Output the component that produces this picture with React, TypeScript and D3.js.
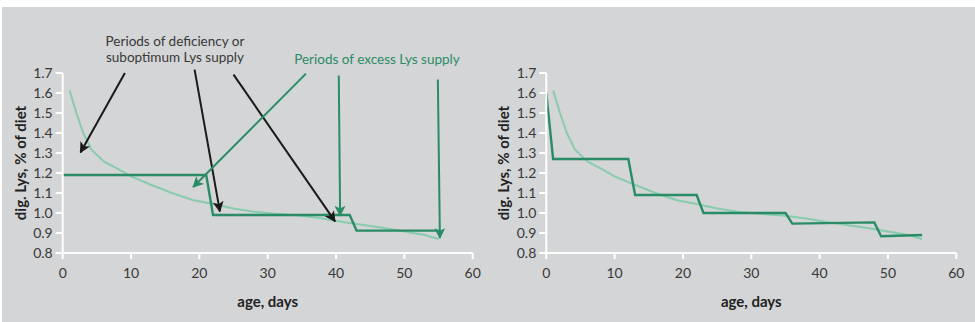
import React from "react";
import * as d3 from "d3";

// ---- data ----
const xTicks = [0, 10, 20, 30, 40, 50, 60];
const yTicks = [0.8, 0.9, 1.0, 1.1, 1.2, 1.3, 1.4, 1.5, 1.6, 1.7];

// requirement curve (light green)
const reqDays = [1, 2, 3, 4.2, 6, 8, 10, 13, 16, 19, 22, 25, 28, 31, 35, 38, 41, 44, 47, 50, 53, 55];
const reqValues = [1.613, 1.5, 1.4, 1.317, 1.258, 1.222, 1.183, 1.14, 1.1, 1.065, 1.045, 1.022, 1.006, 0.996, 0.986, 0.972, 0.955, 0.94, 0.925, 0.908, 0.89, 0.87];

// left: 3-phase feeding
const leftDays = [0, 21, 22, 42, 43, 55];
const leftValues = [1.19, 1.19, 0.99, 0.99, 0.912, 0.912];

// right: multi-phase feeding
const rightDays = [0, 1, 12, 13, 22, 23, 35, 36, 48, 49, 55];
const rightValues = [1.6, 1.27, 1.27, 1.09, 1.09, 1.0, 1.0, 0.947, 0.953, 0.884, 0.89];

// annotation arrows [fromDay, fromValue, toDay, toValue]
const blackArrows = [
  [9.1, 1.7, 2.6, 1.303],
  [19.3, 1.717, 23.0, 1.008],
  [25.0, 1.692, 39.85, 0.958],
];
const greenArrows = [
  [35.6, 1.697, 19.1, 1.13],
  [40.4, 1.687, 40.6, 0.987],
  [54.9, 1.667, 55.2, 0.875],
];
const deficiencyLines = ["Periods of deficiency or", "suboptimum Lys supply"];
const excessLabel = "Periods of excess Lys supply";
const xTitle = "age, days";
const yTitle = "dig. Lys, % of diet";

const W = 975;
const H = 322;
const FONT = "Lato, 'Open Sans', sans-serif";
const BG = "#d4d5d6";
const DARK = "#2a8c66";
const LIGHT = "#88cbad";
const TEXT = "#383838";

function Panel({ ox, days, values }: { ox: number; days: number[]; values: number[] }) {
  const x = d3.scaleLinear().domain([0, 60]).range([ox, ox + 410]);
  const y = d3.scaleLinear().domain([0.8, 1.7]).range([253, 73]);
  const line = d3.line<[number, number]>().x((d) => x(d[0])).y((d) => y(d[1]));
  const req = line(reqDays.map((d, i) => [d, reqValues[i]] as [number, number]));
  const step = line(days.map((d, i) => [d, values[i]] as [number, number]));
  return (
    <g>
      <path d={req || ""} fill="none" stroke={LIGHT} strokeWidth={2} strokeLinejoin="round" />
      <path d={step || ""} fill="none" stroke={DARK} strokeWidth={2.4} strokeLinejoin="miter" />
      {/* axes */}
      <line x1={x(0)} x2={x(60)} y1={y(0.8)} y2={y(0.8)} stroke="#fff" strokeWidth={2} />
      <line x1={x(0)} x2={x(0)} y1={y(0.8)} y2={y(1.7)} stroke="#fff" strokeWidth={2} />
      {xTicks.map((t) => (
        <g key={"x" + t}>
          <line x1={x(t)} x2={x(t)} y1={y(0.8)} y2={y(0.8) + 6} stroke="#fff" strokeWidth={2} />
          <text x={x(t)} y={y(0.8) + 25} textAnchor="middle" fontSize={14} fill={TEXT} fontFamily={FONT}>
            {t}
          </text>
        </g>
      ))}
      {yTicks.map((t) => (
        <g key={"y" + t}>
          <line x1={x(0) - 7} x2={x(0)} y1={y(t)} y2={y(t)} stroke="#fff" strokeWidth={2} />
          <text x={x(0) - 10} y={y(t) + 5} textAnchor="end" fontSize={14} fill={TEXT} fontFamily={FONT}>
            {t.toFixed(1)}
          </text>
        </g>
      ))}
      <text x={x(30)} y={307} textAnchor="middle" fontSize={15} fontWeight="bold" fill="#222" fontFamily={FONT}>
        {xTitle}
      </text>
      <text
        transform={`translate(${ox - 37},${163}) rotate(-90)`}
        textAnchor="middle"
        fontSize={15}
        fontWeight="bold"
        fill="#222"
        fontFamily={FONT}
      >
        {yTitle}
      </text>
    </g>
  );
}

function Arrows({ ox, arrows, color, id }: { ox: number; arrows: number[][]; color: string; id: string }) {
  const x = d3.scaleLinear().domain([0, 60]).range([ox, ox + 410]);
  const y = d3.scaleLinear().domain([0.8, 1.7]).range([253, 73]);
  return (
    <g>
      {arrows.map((a, i) => (
        <line
          key={i}
          x1={x(a[0])}
          y1={y(a[1])}
          x2={x(a[2])}
          y2={y(a[3])}
          stroke={color}
          strokeWidth={2}
          markerEnd={`url(#${id})`}
        />
      ))}
    </g>
  );
}

export default function App() {
  const ox1 = 62.7;
  const ox2 = 546.3;
  return (
    <svg width={W} height={H} style={{ position: "absolute", left: 0, top: 0 }}>
      <defs>
        <marker id="arrBlack" viewBox="0 0 10 10" refX={9} refY={5} markerWidth={5.5} markerHeight={5.5} orient="auto" markerUnits="strokeWidth">
          <path d="M0,0 L10,5 L0,10 L2.5,5 Z" fill="#1a1a1a" />
        </marker>
        <marker id="arrGreen" viewBox="0 0 10 10" refX={9} refY={5} markerWidth={5.5} markerHeight={5.5} orient="auto" markerUnits="strokeWidth">
          <path d="M0,0 L10,5 L0,10 L2.5,5 Z" fill={DARK} />
        </marker>
      </defs>
      <rect x={0} y={0} width={W} height={H} fill="#fff" />
      <rect x={2} y={7} width={W - 2} height={H - 7} fill={BG} />
      <Panel ox={ox1} days={leftDays} values={leftValues} />
      <Panel ox={ox2} days={rightDays} values={rightValues} />
      <Arrows ox={ox1} arrows={blackArrows} color="#1a1a1a" id="arrBlack" />
      <Arrows ox={ox1} arrows={greenArrows} color={DARK} id="arrGreen" />
      {deficiencyLines.map((s, i) => (
        <text key={i} x={175} y={46 + i * 16} textAnchor="middle" fontSize={13.5} fill={TEXT} fontFamily={FONT}>
          {s}
        </text>
      ))}
      <text x={377} y={64} textAnchor="middle" fontSize={13.5} fill={DARK} fontFamily={FONT}>
        {excessLabel}
      </text>
    </svg>
  );
}
